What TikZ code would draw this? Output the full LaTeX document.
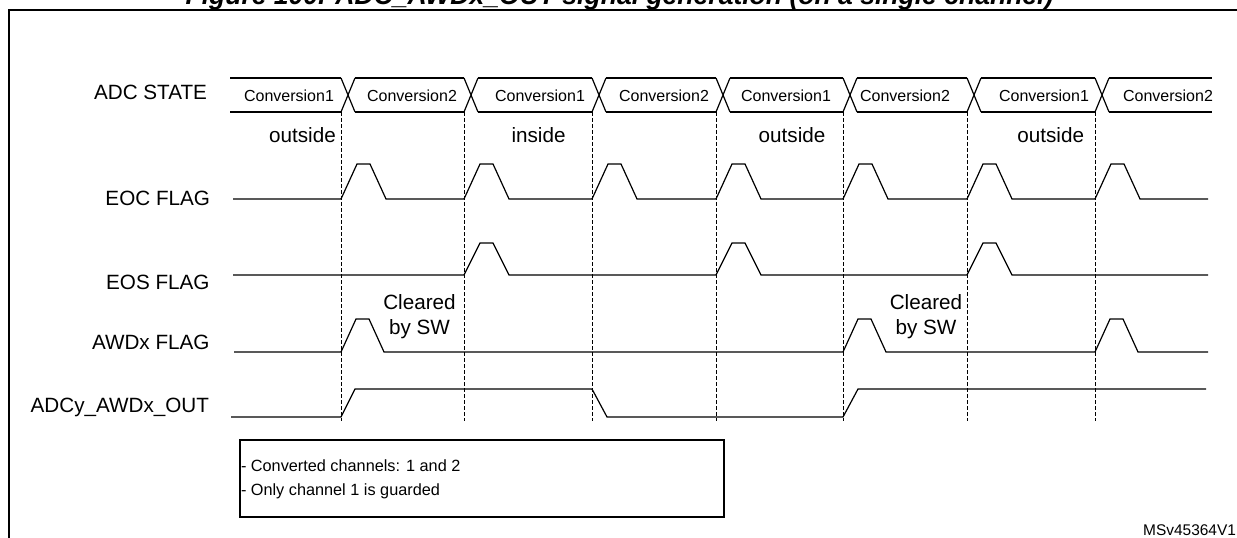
\documentclass[tikz,border=0pt]{standalone}
\usepackage{fontspec}
\setmainfont{Liberation Sans}
\begin{document}
\begin{tikzpicture}[x=0.75pt, y=-0.75pt, line width=0.9pt,
	every node/.style = {inner sep=0pt, outer sep=0pt},
	siglabel/.style = {anchor=base east, font=\fontsize{15.5}{18.75}\selectfont},
	zone/.style = {anchor=base, font=\fontsize{15.5}{18.75}\selectfont},
	convtext/.style = {anchor=base, font=\fontsize{12}{14}\selectfont},
	note/.style = {anchor=base west, font=\fontsize{12.2}{17.5}\selectfont},
	guide/.style = {dash pattern=on 3pt off 1.5pt, line width=0.7pt}]
	\useasboundingbox (0,0) rectangle (1237,538);
	\clip (0,0) rectangle (1237,538);
	\node[anchor=base, font=\fontsize{19.9}{24}\selectfont\bfseries\itshape] (title) at (619.5,5) {Figure 100. ADC\_AWDx\_OUT signal generation (on a single channel)};
	\draw[line width=1.5pt] (8.5,10) rectangle (1250,550);
	\node[siglabel] (lblstate) at (207,100) {ADC STATE};
	\node[siglabel] (lbleoc) at (210,206) {EOC FLAG};
	\node[siglabel] (lbleos) at (209.5,289) {EOS FLAG};
	\node[siglabel] (lblawd) at (209.5,349) {AWDx FLAG};
	\node[siglabel] (lblout) at (209,412) {ADCy\_AWDx\_OUT};
	\foreach \a/\b in {230/341,355/464,478/592,606/716,730/843,857/967,981/1095,1109/1212}
		\draw (\a,78) -- (\b,78) (\a,112) -- (\b,112);
	\foreach \d in {341,464,592,716,843,967,1095} {
		\draw (\d,78) -- ++(14,34) (\d,112) -- ++(14,-34);
		\draw[guide] (\d,112) -- (\d,421);
	}
	\foreach \x/\t in {289/1,412/2,540/1,664/2,786/1,905/2,1044/1,1168/2}
		\node[convtext] (conv\x) at (\x,102) {Conversion\t};
	\foreach \x/\t/\n in {302.5/outside/1,538.5/inside/2,792/outside/3,1050.7/outside/4}
		\node[zone] (zone\n) at (\x,143) {\t};
	\draw (233,199) foreach \d in {341,464,592,716,843,967,1095} { -- (\d,199) -- ++(16,-35) -- ++(13,0) -- ++(16,35) } -- (1208,199);
	\draw (233,275) foreach \d in {464,716,967} { -- (\d,275) -- ++(16,-32) -- ++(13,0) -- ++(16,32) } -- (1208,275);
	\draw (234,352) foreach \d in {341,843,1095} { -- (\d,352) -- ++(15,-33) -- ++(13,0) -- ++(15,33) } -- (1208,352);
	\draw (231,417) -- (341,417) -- (355,389) -- (592,389) -- (607,417) -- (843,417) -- (858,389) -- (1206,389);
	\foreach \x/\n in {419.5/a,926/b} {
		\node[zone] (clr\n) at (\x,309) {Cleared};
		\node[zone] (sw\n) at (\x,334) {by SW};
	}
	\draw (240,440) rectangle (724,517);
	\node[note] (notea) at (241,471.7) {- Converted channels: 1 and 2};
	\node[note] (noteb) at (241,495) {- Only channel 1 is guarded};
	\node[anchor=base east, font=\fontsize{11.6}{14}\selectfont] (ref) at (1236,535) {MSv45364V1};
\end{tikzpicture}
\end{document}
